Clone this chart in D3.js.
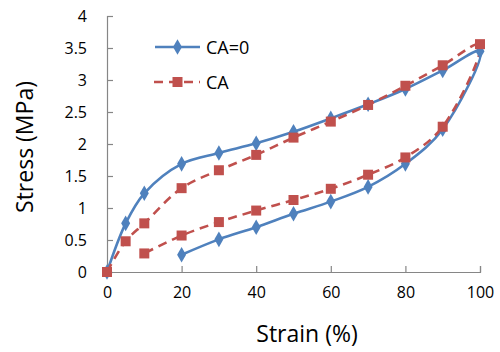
<!DOCTYPE html>
<html>
<head>
<meta charset="utf-8">
<script src="https://cdn.jsdelivr.net/npm/d3@7"></script>
<style>
  body { margin: 0; background: #fff; }
  text { font-family: "Open Sans", "Noto Sans", sans-serif; fill: #000; }
</style>
</head>
<body>
<div id="chart"></div>
<script>
// strain (%) goes 0 -> 100 on loading then back down on unloading
var strainCA0 = [0, 5, 10, 20, 30, 40, 50, 60, 70, 80, 90, 100, 90, 80, 70, 60, 50, 40, 30, 20];
var stressCA0 = [0, 0.76, 1.23, 1.69, 1.86, 2.01, 2.19, 2.40, 2.62, 2.86, 3.15, 3.45, 2.23, 1.69, 1.33, 1.10, 0.91, 0.70, 0.51, 0.27];

var strainCA = [0, 5, 10, 20, 30, 40, 50, 60, 70, 80, 90, 100, 90, 80, 70, 60, 50, 40, 30, 20, 10];
var stressCA = [0, 0.48, 0.76, 1.31, 1.59, 1.83, 2.10, 2.35, 2.61, 2.91, 3.23, 3.56, 2.27, 1.79, 1.52, 1.30, 1.125, 0.96, 0.78, 0.57, 0.29];

var seriesNames = ["CA=0", "CA"];
var xTicks = [0, 20, 40, 60, 80, 100];
var yTicks = [0, 0.5, 1, 1.5, 2, 2.5, 3, 3.5, 4];

var width = 500, height = 352;
var margin = {top: 16, right: 20, bottom: 80, left: 107};

var svg = d3.select("#chart").append("svg")
    .attr("width", width)
    .attr("height", height);

var x = d3.scaleLinear().domain([0, 100]).range([107, 480]);
var y = d3.scaleLinear().domain([0, 4]).range([272, 16]);

var axisColor = "#868686";

// axes, ticks point inward
var xAxis = svg.append("g")
    .attr("transform", "translate(0," + y(0) + ")")
    .call(d3.axisBottom(x).tickValues(xTicks).tickSize(-6).tickPadding(16).tickFormat(d3.format("d")));

var yAxis = svg.append("g")
    .attr("transform", "translate(" + x(0) + ",0)")
    .call(d3.axisLeft(y).tickValues(yTicks).tickSize(-6).tickPadding(20).tickFormat(function(d) { return String(d); }));

[xAxis, yAxis].forEach(function(a) {
    a.selectAll("path").attr("stroke", axisColor).attr("stroke-width", 1.2);
    a.selectAll("line").attr("stroke", axisColor).attr("stroke-width", 1.2);
    a.selectAll("text").attr("font-size", 16).attr("fill", "#000")
        .style("font-family", "'Open Sans', 'Noto Sans', sans-serif");
});
xAxis.selectAll("text").attr("dy", "0.71em").attr("y", 15);

var blue = "#4F81BD", red = "#C0504D";

var line = d3.line()
    .x(function(d) { return x(d[0]); })
    .y(function(d) { return y(d[1]); })
    .curve(d3.curveCatmullRom.alpha(0.5));

var ca0 = strainCA0.map(function(s, i) { return [s, stressCA0[i]]; });
var ca = strainCA.map(function(s, i) { return [s, stressCA[i]]; });

var diamond = d3.symbol().type(d3.symbolDiamond).size(70);

// CA=0
svg.append("path")
    .datum(ca0)
    .attr("d", line)
    .attr("fill", "none")
    .attr("stroke", blue)
    .attr("stroke-width", 2.6);

// CA
svg.append("path")
    .datum(ca)
    .attr("d", line)
    .attr("fill", "none")
    .attr("stroke", red)
    .attr("stroke-width", 2.6)
    .attr("stroke-dasharray", "9,6");

svg.selectAll(".dia")
    .data(ca0)
    .enter().append("path")
    .attr("class", "dia")
    .attr("d", diamond)
    .attr("fill", blue)
    .attr("transform", function(d) { return "translate(" + x(d[0]) + "," + y(d[1]) + ")"; });

svg.selectAll(".sq")
    .data(ca)
    .enter().append("rect")
    .attr("class", "sq")
    .attr("x", function(d) { return x(d[0]) - 5; })
    .attr("y", function(d) { return y(d[1]) - 5; })
    .attr("width", 10)
    .attr("height", 10)
    .attr("fill", red);

// legend
var legend = svg.append("g").attr("transform", "translate(155,47)");
seriesNames.forEach(function(name, i) {
    var g = legend.append("g").attr("transform", "translate(0," + (i * 35) + ")");
    var l = g.append("line")
        .attr("x1", 0).attr("x2", 45)
        .attr("stroke", i == 0 ? blue : red)
        .attr("stroke-width", 2.6);
    if (i == 1) {
        l.attr("stroke-dasharray", "9,6").attr("x1", -1);
        g.append("rect").attr("x", 17.5).attr("y", -5).attr("width", 10).attr("height", 10).attr("fill", red);
    } else {
        g.append("path").attr("d", diamond).attr("fill", blue).attr("transform", "translate(22.5,0)");
    }
    g.append("text")
        .attr("x", 51)
        .attr("y", 7)
        .attr("font-size", 18)
        .text(name);
});

// axis titles
svg.append("text")
    .attr("x", 307)
    .attr("y", 342)
    .attr("text-anchor", "middle")
    .attr("font-size", 23)
    .text("Strain (%)");

svg.append("text")
    .attr("transform", "translate(33,147) rotate(-90)")
    .attr("text-anchor", "middle")
    .attr("font-size", 23)
    .text("Stress (MPa)");
</script>
</body>
</html>
